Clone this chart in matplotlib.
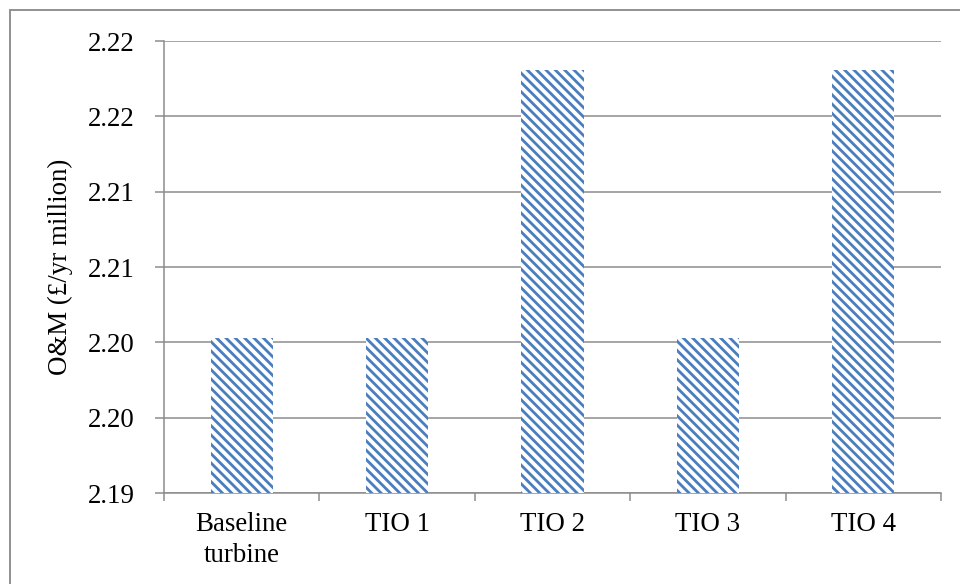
import matplotlib
matplotlib.use("Agg")
import matplotlib.pyplot as plt
from matplotlib.patches import Rectangle
from matplotlib.ticker import FixedLocator, FuncFormatter

categories = ["Baseline\nturbine", "TIO 1", "TIO 2", "TIO 3", "TIO 4"]
om_cost = [2.2003, 2.2003, 2.2181, 2.2003, 2.2181]
y_ticks = [2.190, 2.195, 2.200, 2.205, 2.210, 2.215, 2.220]

DPI = 84
W, H = 960, 584
plt.rcParams["font.family"] = ["Liberation Serif", "DejaVu Serif"]
plt.rcParams["hatch.linewidth"] = 2.4
plt.rcParams["hatch.color"] = "#4a7ebf"

grey = "#8c8c8c"
fig = plt.figure(figsize=(W / DPI, H / DPI), dpi=DPI)
ax = fig.add_axes([164 / W, 1 - 493 / H, (941 - 164) / W, (493 - 41) / H])

x = list(range(len(categories)))
ax.bar(x, om_cost, width=0.4, bottom=0, color="white", edgecolor="#4a7ebf",
       linewidth=0, hatch="\\\\\\", zorder=3)

ax.set_xlim(-0.5, len(categories) - 0.5)
ax.set_ylim(y_ticks[0], y_ticks[-1])
ax.yaxis.set_major_locator(FixedLocator(y_ticks))
ax.yaxis.set_major_formatter(FuncFormatter(lambda v, p: f"{v + 1e-9:.2f}"))
ax.yaxis.grid(True, color=grey, linewidth=1.3, zorder=0)
ax.set_axisbelow(True)

# category labels centred, tick marks on category boundaries
ax.set_xticks(x)
ax.set_xticklabels(categories, fontsize=23, linespacing=1.32)
ax.xaxis.set_minor_locator(FixedLocator([i - 0.5 for i in range(len(categories) + 1)]))
ax.tick_params(axis="x", which="major", length=0, pad=16)
ax.tick_params(axis="x", which="minor", length=7, width=1.3, color=grey, direction="out")
ax.tick_params(axis="y", length=8, width=1.3, color=grey, direction="out", pad=17, labelsize=23)

for side in ["top", "right"]:
    ax.spines[side].set_visible(False)
for side in ["left", "bottom"]:
    ax.spines[side].set_color(grey)
    ax.spines[side].set_linewidth(1.3)

fig.text(60 / W, 1 - 267 / H, "O&M (£/yr million)", rotation=90,
         ha="center", va="center", fontsize=23)

# chart-area frame
fig.patches.append(Rectangle((10 / W, -0.2), 1.2, 1 - 10 / H + 0.2,
                             transform=fig.transFigure, fill=False,
                             edgecolor=grey, linewidth=1.6))

fig.savefig("out.png", dpi=DPI)
